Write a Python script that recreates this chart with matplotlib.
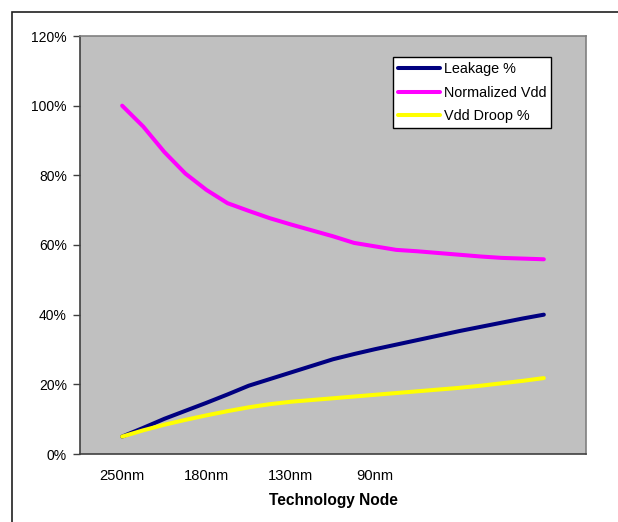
import matplotlib
matplotlib.use("Agg")
import matplotlib.pyplot as plt
from matplotlib.patches import Rectangle
from matplotlib.ticker import PercentFormatter

plt.rcParams['font.family'] = ['Liberation Sans', 'DejaVu Sans']

# category labels (6 categories, last two unlabeled)
node_labels = ['250nm', '180nm', '130nm', '90nm', '', '']

# values at quarter-category steps
x_pos = [0, 0.25, 0.5, 0.75, 1, 1.25, 1.5, 1.75, 2, 2.25, 2.5,
         2.75, 3, 3.25, 3.5, 3.75, 4, 4.25, 4.5, 4.75, 5]
leakage = [5.0, 7.5, 10.1, 12.4, 14.7, 17.1, 19.6, 21.5, 23.4, 25.3, 27.2,
           28.7, 30.1, 31.4, 32.7, 34.0, 35.3, 36.5, 37.7, 38.9, 40.0]
norm_vdd = [100.0, 94.0, 86.7, 80.5, 75.8, 72.0, 69.8, 67.7, 65.9, 64.2, 62.5,
            60.6, 59.6, 58.6, 58.2, 57.7, 57.2, 56.7, 56.3, 56.1, 55.9]
vdd_droop = [5.0, 6.8, 8.4, 9.8, 11.1, 12.3, 13.4, 14.3, 15.0, 15.5, 16.0,
             16.5, 17.0, 17.5, 18.0, 18.5, 19.0, 19.6, 20.3, 21.0, 21.8]

fig = plt.figure(figsize=(6.18, 5.22), dpi=100)
ax = fig.add_axes([80/618, 68/522, 506/618, 418/522])
ax.set_facecolor('#C0C0C0')

lw = 2.9
ax.plot(x_pos, leakage, color='#000080', lw=lw, solid_capstyle='round', label='Leakage %')
ax.plot(x_pos, norm_vdd, color='#FF00FF', lw=lw, solid_capstyle='round', label='Normalized Vdd')
ax.plot(x_pos, vdd_droop, color='#FFFF00', lw=lw, solid_capstyle='round', label='Vdd Droop %')

ax.set_xlim(-0.5, 5.5)
ax.set_ylim(0, 120)
ax.set_yticks(range(0, 121, 20))
ax.yaxis.set_major_formatter(PercentFormatter(decimals=0))
ax.set_xticks(range(len(node_labels)))
ax.set_xticklabels(node_labels)
ax.tick_params(axis='x', length=0, pad=11, labelsize=10.6)
ax.tick_params(axis='y', length=5, width=1, direction='out', pad=4.5, labelsize=10, color='#404040')

for s in ['left', 'bottom']:
    ax.spines[s].set_color('#404040')
    ax.spines[s].set_linewidth(1.2)
for s in ['top', 'right']:
    ax.spines[s].set_color('#808080')
    ax.spines[s].set_linewidth(1.2)

ax.set_xlabel('Technology Node', fontsize=11.2, fontweight='bold', labelpad=7)

leg = ax.legend(loc='upper left', bbox_to_anchor=(313/506, 397/418), borderaxespad=0,
                fontsize=10.4, handlelength=2.9, handletextpad=0.25, labelspacing=0.66,
                borderpad=0.35, fancybox=False, framealpha=1, edgecolor='black')
leg.get_frame().set_linewidth(1.0)

# outer chart border
fig.patches.append(Rectangle((12/618, -0.1), 1.2, 0.977 + 0.1, transform=fig.transFigure,
                             fill=False, edgecolor='#202020', lw=1.2))

fig.savefig('out.png', dpi=100)
